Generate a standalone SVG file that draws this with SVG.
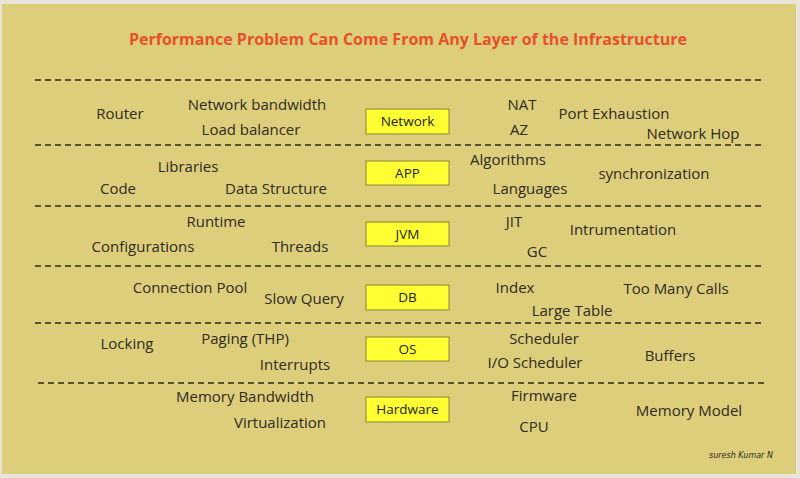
<svg xmlns="http://www.w3.org/2000/svg" width="800" height="478" viewBox="0 0 800 478">
<style>
.t{font-family:"Open Sans","Noto Sans",sans-serif;font-size:15px;fill:#2e2a1c;text-anchor:middle}
.d{stroke:#2e2a1c;stroke-width:1.5;stroke-dasharray:6,4;fill:none}
.b{fill:#ffff33;stroke:#8a8430;stroke-width:1}
.bt{font-family:"Open Sans","Noto Sans",sans-serif;font-size:13.5px;fill:#222;text-anchor:middle}
</style>
<rect x="0" y="0" width="800" height="478" fill="#e8e4d8"/>
<rect x="2" y="4" width="794" height="470" fill="#ddce7c"/>
<text x="408" y="45" style="font-family:'Open Sans','Noto Sans',sans-serif;font-size:16px;font-weight:bold;fill:#e8502a;text-anchor:middle">Performance Problem Can Come From Any Layer of the Infrastructure</text>
<g id="connectors">
<line class="d" x1="35" y1="80" x2="765" y2="80"/>
<line class="d" x1="35" y1="145" x2="765" y2="145"/>
<line class="d" x1="35" y1="206" x2="765" y2="206"/>
<line class="d" x1="35" y1="266" x2="765" y2="266"/>
<line class="d" x1="35" y1="323" x2="765" y2="323"/>
<line class="d" x1="38" y1="383" x2="765" y2="383"/>
</g>
<g id="network">
<rect class="b" x="366" y="109" width="83" height="25"/><text class="bt" x="407.5" y="126">Network</text>
<text class="t" x="120" y="119">Router</text>
<text class="t" x="257" y="110">Network bandwidth</text>
<text class="t" x="251" y="135">Load balancer</text>
<text class="t" x="522" y="110">NAT</text>
<text class="t" x="519" y="135">AZ</text>
<text class="t" x="614" y="119">Port Exhaustion</text>
<text class="t" x="693" y="139">Network Hop</text>
</g>
<g id="app">
<rect class="b" x="366" y="161" width="83" height="24"/><text class="bt" x="407.5" y="178">APP</text>
<text class="t" x="188" y="172">Libraries</text>
<text class="t" x="118" y="194">Code</text>
<text class="t" x="276" y="194">Data Structure</text>
<text class="t" x="508" y="165">Algorithms</text>
<text class="t" x="530" y="194">Languages</text>
<text class="t" x="654" y="179">synchronization</text>
</g>
<g id="jvm">
<rect class="b" x="366" y="222" width="83" height="24"/><text class="bt" x="407.5" y="239">JVM</text>
<text class="t" x="216" y="227">Runtime</text>
<text class="t" x="143" y="252">Configurations</text>
<text class="t" x="300" y="252">Threads</text>
<text class="t" x="514" y="227">JIT</text>
<text class="t" x="537" y="257">GC</text>
<text class="t" x="623" y="235">Intrumentation</text>
</g>
<g id="db">
<rect class="b" x="366" y="285" width="83" height="25"/><text class="bt" x="407.5" y="302">DB</text>
<text class="t" x="190" y="293">Connection Pool</text>
<text class="t" x="304" y="304">Slow Query</text>
<text class="t" x="515" y="293">Index</text>
<text class="t" x="572" y="316">Large Table</text>
<text class="t" x="676" y="294">Too Many Calls</text>
</g>
<g id="os">
<rect class="b" x="366" y="337" width="83" height="24"/><text class="bt" x="407.5" y="354">OS</text>
<text class="t" x="127" y="349">Locking</text>
<text class="t" x="245" y="344">Paging (THP)</text>
<text class="t" x="295" y="370">Interrupts</text>
<text class="t" x="544" y="344">Scheduler</text>
<text class="t" x="535" y="368">I/O Scheduler</text>
<text class="t" x="670" y="361">Buffers</text>
</g>
<g id="hardware">
<rect class="b" x="366" y="397" width="83" height="25"/><text class="bt" x="407.5" y="414">Hardware</text>
<text class="t" x="245" y="402">Memory Bandwidth</text>
<text class="t" x="280" y="428">Virtualization</text>
<text class="t" x="544" y="401">Firmware</text>
<text class="t" x="534" y="432">CPU</text>
<text class="t" x="689" y="416">Memory Model</text>
</g>
<text x="741" y="458" style="font-family:'DejaVu Sans',sans-serif;font-style:italic;font-size:8px;fill:#2e2a1c;text-anchor:middle">suresh Kumar N</text>
</svg>
